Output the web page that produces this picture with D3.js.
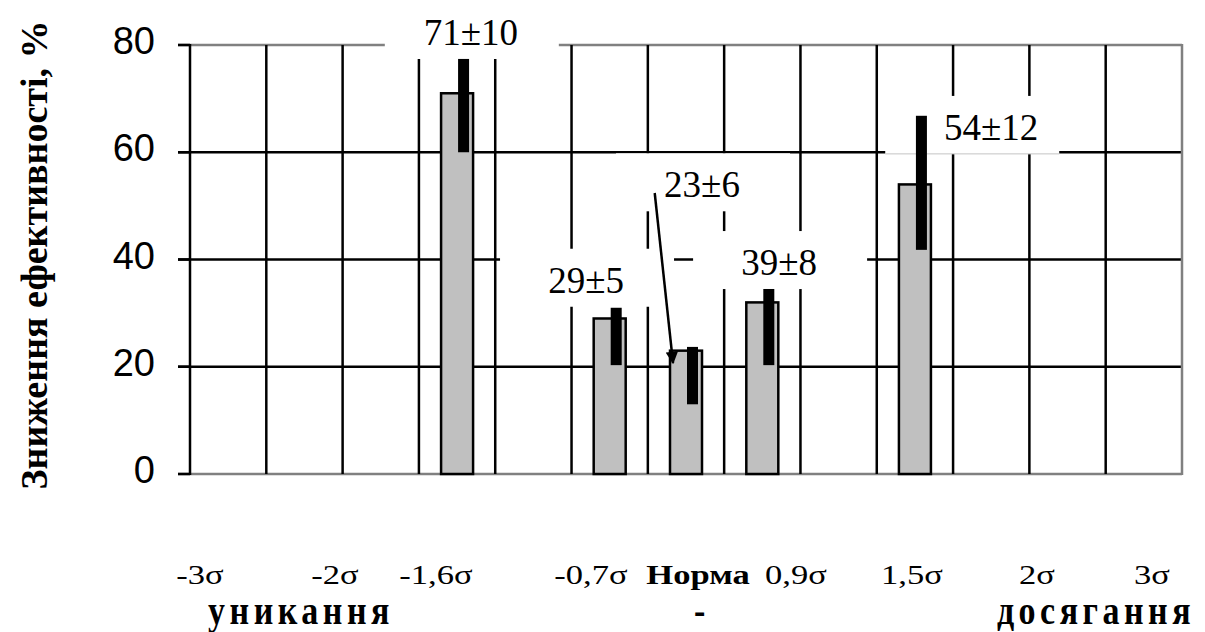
<!DOCTYPE html>
<html>
<head>
<meta charset="utf-8">
<script src="https://cdn.jsdelivr.net/npm/d3@7/dist/d3.min.js"></script>
<style>
  body { margin: 0; background: #fff; }
</style>
</head>
<body>
<div id="wrapper"></div>
<script>
// data
const slotCount = 13;
const barSlot = [3, 5, 6, 7, 9];
const barValue = [71, 29, 23, 32, 54];
const errLow = [60, 20.3, 13, 20.3, 41.8];
const errHigh = [77.4, 31, 23.7, 34.5, 66.8];
const barLabels = ['71±10', '29±5', '23±6', '39±8', '54±12'];
const yTicks = [0, 20, 40, 60, 80];
const sigmaLabels = ['-3σ', '-2σ', '-1,6σ', '-0,7σ', 'Норма', '0,9σ', '1,5σ', '2σ', '3σ'];
const sideLabels = ['уникання', '-', 'досягання'];
const yTitle = 'Зниження ефективності, %';

// layout of the hand placed annotations
const labelPos = [[3.68, 80], [5.19, 33.8], [6.71, 51.6], [7.72, 37.1], [10.5, 62.3]]; // slot units, value
const labelBoxDx = [-86, -86, -86, -86, -106];
const arrowFrom = [6.09, 52.4];
const arrowTo = [6.33, 20.7];
const sigmaX = [200, 335, 436, 591, 698, 796, 912, 1037, 1152];
const sideX = [301, 702, 1096];

function drawChart() {
  const width = 1205, height = 632;
  const left = 190, right = 1182, top = 45, bottom = 474;

  const svg = d3.select('#wrapper').append('svg').attr('width', width).attr('height', height);

  const x = d3.scaleBand().domain(d3.range(slotCount)).range([left, right]).padding(0);
  const xPos = d3.scaleLinear().domain([0, slotCount]).range([left, right]);
  const y = d3.scaleLinear().domain([0, 80]).range([bottom, top]);
  const bw = x.bandwidth();

  // horizontal grid
  svg.append('g')
    .selectAll('line')
    .data(yTicks)
    .enter()
    .append('line')
    .attr('x1', left - 12)
    .attr('x2', right)
    .attr('y1', (d) => y(d))
    .attr('y2', (d) => y(d))
    .attr('stroke', (d) => (d === 0 || d === 80 ? '#808080' : '#000'))
    .attr('stroke-width', 2.5);

  // ticks on the left stay black
  svg.append('g')
    .selectAll('line')
    .data(yTicks)
    .enter()
    .append('line')
    .attr('x1', left - 12)
    .attr('x2', left)
    .attr('y1', (d) => y(d))
    .attr('y2', (d) => y(d))
    .attr('stroke', '#000')
    .attr('stroke-width', 2.5);

  // vertical grid between categories
  svg.append('g')
    .selectAll('line')
    .data(d3.range(1, slotCount))
    .enter()
    .append('line')
    .attr('x1', (d) => x(d))
    .attr('x2', (d) => x(d))
    .attr('y1', top)
    .attr('y2', bottom)
    .attr('stroke', '#000')
    .attr('stroke-width', 2.5);

  svg.append('line')
    .attr('x1', right).attr('x2', right)
    .attr('y1', top - 1).attr('y2', bottom + 1)
    .attr('stroke', '#808080').attr('stroke-width', 2.5);

  svg.append('line')
    .attr('x1', left).attr('x2', left)
    .attr('y1', top - 1).attr('y2', bottom + 1)
    .attr('stroke', '#000').attr('stroke-width', 2.5);

  // white boxes behind the value labels
  svg.append('g')
    .selectAll('rect')
    .data(barLabels)
    .enter()
    .append('rect')
    .attr('x', (d, i) => xPos(labelPos[i][0]) + labelBoxDx[i])
    .attr('y', (d, i) => y(labelPos[i][1]) - 44)
    .attr('width', 174)
    .attr('height', 58)
    .attr('fill', '#fff');

  svg.append('line')
    .attr('x1', xPos(labelPos[4][0]) + labelBoxDx[4])
    .attr('x2', xPos(labelPos[4][0]) + labelBoxDx[4] + 174)
    .attr('y1', y(labelPos[4][1]) + 14)
    .attr('y2', y(labelPos[4][1]) + 14)
    .attr('stroke', '#c8c8c8')
    .attr('stroke-width', 1);

  // bars
  svg.append('g')
    .selectAll('rect')
    .data(barValue)
    .enter()
    .append('rect')
    .attr('x', (d, i) => x(barSlot[i]) + bw / 2 - 16)
    .attr('y', (d) => y(d))
    .attr('width', 32)
    .attr('height', (d) => bottom - y(d))
    .attr('fill', '#c0c0c0')
    .attr('stroke', '#000')
    .attr('stroke-width', 2.5);

  // error bars
  svg.append('g')
    .selectAll('rect')
    .data(barValue)
    .enter()
    .append('rect')
    .attr('x', (d, i) => x(barSlot[i]) + bw / 2 + 1)
    .attr('y', (d, i) => y(errHigh[i]))
    .attr('width', 11)
    .attr('height', (d, i) => y(errLow[i]) - y(errHigh[i]))
    .attr('fill', '#000');

  // value labels
  svg.append('g')
    .selectAll('text')
    .data(barLabels)
    .enter()
    .append('text')
    .attr('x', (d, i) => xPos(labelPos[i][0]))
    .attr('y', (d, i) => y(labelPos[i][1]))
    .attr('text-anchor', 'middle')
    .attr('font-family', 'Liberation Serif, Times New Roman, serif')
    .attr('font-size', 37)
    .text((d) => d);

  // arrow from 23±6 to its bar
  svg.append('defs')
    .append('marker')
    .attr('id', 'head')
    .attr('viewBox', '0 0 10 10')
    .attr('refX', 9)
    .attr('refY', 5)
    .attr('markerWidth', 5)
    .attr('markerHeight', 5)
    .attr('orient', 'auto')
    .append('path')
    .attr('d', 'M0,0L10,5L0,10Z')
    .attr('fill', '#000');

  svg.append('line')
    .attr('x1', xPos(arrowFrom[0]))
    .attr('y1', y(arrowFrom[1]))
    .attr('x2', xPos(arrowTo[0]))
    .attr('y2', y(arrowTo[1]))
    .attr('stroke', '#000')
    .attr('stroke-width', 2.5)
    .attr('marker-end', 'url(#head)');

  // y tick labels
  svg.append('g')
    .selectAll('text')
    .data(yTicks)
    .enter()
    .append('text')
    .attr('x', 155)
    .attr('y', (d) => y(d) + 9)
    .attr('text-anchor', 'end')
    .attr('font-family', 'Liberation Sans, Arial, sans-serif')
    .attr('font-size', 38)
    .text((d) => d);

  // y title
  svg.append('text')
    .attr('transform', 'translate(47,255) rotate(-90)')
    .attr('text-anchor', 'middle')
    .attr('font-family', 'Liberation Serif, Times New Roman, serif')
    .attr('font-weight', 'bold')
    .attr('font-size', 38)
    .text(yTitle);

  // sigma row under the chart
  svg.append('g')
    .selectAll('text')
    .data(sigmaLabels)
    .enter()
    .append('text')
    .attr('transform', (d, i) => `translate(${sigmaX[i]},584) scale(1.28,1)`)
    .attr('text-anchor', 'middle')
    .attr('font-family', 'Liberation Serif, Times New Roman, serif')
    .attr('font-weight', (d) => (d === 'Норма' ? 'bold' : 'normal'))
    .attr('font-size', 27)
    .text((d) => d);

  svg.append('g')
    .selectAll('text')
    .data(sideLabels)
    .enter()
    .append('text')
    .attr('transform', (d, i) => `translate(${sideX[i]},624) scale(1,1.2)`)
    .attr('text-anchor', 'middle')
    .attr('font-family', 'Liberation Serif, Times New Roman, serif')
    .attr('font-weight', 'bold')
    .attr('font-size', 34)
    .attr('letter-spacing', 4.5)
    .text((d) => d);
}

drawChart();
</script>
</body>
</html>
